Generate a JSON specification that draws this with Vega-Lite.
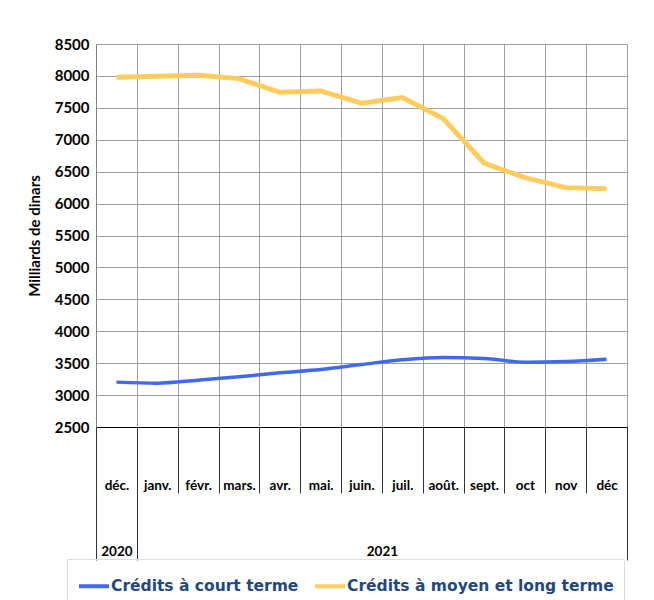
{
  "$schema": "https://vega.github.io/schema/vega-lite/v6.json",
  "width": 531,
  "height": 383,
  "autosize": {"type": "none"},
  "padding": {"left": 96, "top": 44, "right": 27, "bottom": 173},
  "background": "white",
  "config": {"view": {"stroke": null}, "font": "Lato"},
  "data": {
    "values": [
      {"mois": "déc.", "annee": "2020", "serie": "Crédits à court terme", "valeur": 3203},
      {"mois": "janv.", "annee": "2021", "serie": "Crédits à court terme", "valeur": 3187},
      {"mois": "févr.", "annee": "2021", "serie": "Crédits à court terme", "valeur": 3234},
      {"mois": "mars.", "annee": "2021", "serie": "Crédits à court terme", "valeur": 3286},
      {"mois": "avr.", "annee": "2021", "serie": "Crédits à court terme", "valeur": 3349},
      {"mois": "mai.", "annee": "2021", "serie": "Crédits à court terme", "valeur": 3401},
      {"mois": "juin.", "annee": "2021", "serie": "Crédits à court terme", "valeur": 3479},
      {"mois": "juil.", "annee": "2021", "serie": "Crédits à court terme", "valeur": 3552},
      {"mois": "août.", "annee": "2021", "serie": "Crédits à court terme", "valeur": 3589},
      {"mois": "sept.", "annee": "2021", "serie": "Crédits à court terme", "valeur": 3573},
      {"mois": "oct", "annee": "2021", "serie": "Crédits à court terme", "valeur": 3516},
      {"mois": "nov", "annee": "2021", "serie": "Crédits à court terme", "valeur": 3526},
      {"mois": "déc", "annee": "2021", "serie": "Crédits à court terme", "valeur": 3563},
      {"mois": "déc.", "annee": "2020", "serie": "Crédits à moyen et long terme", "valeur": 7979},
      {"mois": "janv.", "annee": "2021", "serie": "Crédits à moyen et long terme", "valeur": 7995},
      {"mois": "févr.", "annee": "2021", "serie": "Crédits à moyen et long terme", "valeur": 8010},
      {"mois": "mars.", "annee": "2021", "serie": "Crédits à moyen et long terme", "valeur": 7958},
      {"mois": "avr.", "annee": "2021", "serie": "Crédits à moyen et long terme", "valeur": 7744},
      {"mois": "mai.", "annee": "2021", "serie": "Crédits à moyen et long terme", "valeur": 7765},
      {"mois": "juin.", "annee": "2021", "serie": "Crédits à moyen et long terme", "valeur": 7572},
      {"mois": "juil.", "annee": "2021", "serie": "Crédits à moyen et long terme", "valeur": 7660},
      {"mois": "août.", "annee": "2021", "serie": "Crédits à moyen et long terme", "valeur": 7331},
      {"mois": "sept.", "annee": "2021", "serie": "Crédits à moyen et long terme", "valeur": 6636},
      {"mois": "oct", "annee": "2021", "serie": "Crédits à moyen et long terme", "valeur": 6406},
      {"mois": "nov", "annee": "2021", "serie": "Crédits à moyen et long terme", "valeur": 6250},
      {"mois": "déc", "annee": "2021", "serie": "Crédits à moyen et long terme", "valeur": 6234}
    ]
  },
  "encoding": {
    "y": {
      "field": "valeur",
      "type": "quantitative",
      "scale": {"domain": [2500, 8500], "nice": false, "zero": false},
      "axis": {
        "title": "Milliards de dinars",
        "format": "d",
        "values": [2500, 3000, 3500, 4000, 4500, 5000, 5500, 6000, 6500, 7000, 7500, 8000, 8500],
        "grid": true,
        "gridColor": "#9e9e9e",
        "domain": true,
        "domainColor": "#808080",
        "ticks": false,
        "labelPadding": 7,
        "labelFont": "Lato",
        "labelFontWeight": "bold",
        "labelFontSize": 15,
        "labelColor": "#000000",
        "titleFont": "Lato",
        "titleFontSize": 15,
        "titleFontWeight": "bold",
        "titleColor": "#000000",
        "titlePadding": 12
      }
    },
    "color": {
      "field": "serie",
      "type": "nominal",
      "scale": {
        "domain": ["Crédits à court terme", "Crédits à moyen et long terme"],
        "range": ["#4169EE", "#FFCD5F"]
      },
      "legend": {
        "title": null,
        "orient": "none",
        "direction": "horizontal",
        "legendX": -29,
        "legendY": 515,
        "symbolType": "stroke",
        "symbolStrokeWidth": 4,
        "symbolSize": 900,
        "labelFont": "DejaVu Sans",
        "labelFontWeight": "bold",
        "labelFontSize": 15.5,
        "labelColor": "#1F497D",
        "labelOffset": 0,
        "columnPadding": 8,
        "padding": 10,
        "strokeColor": "#dddddd",
        "labelLimit": 400
      }
    }
  },
  "layer": [
    {
      "transform": [{"filter": "datum.serie === 'Crédits à court terme'"}],
      "mark": {"type": "line", "strokeWidth": 3.5, "interpolate": "monotone"},
      "encoding": {
        "x": {
          "field": "mois",
          "type": "ordinal",
          "scale": {
            "type": "band",
            "paddingInner": 0,
            "paddingOuter": 0,
            "domain": ["déc.", "janv.", "févr.", "mars.", "avr.", "mai.", "juin.", "juil.", "août.", "sept.", "oct", "nov", "déc"]
          },
          "axis": {
            "title": null,
            "orient": "bottom",
            "tickBand": "extent",
            "grid": true,
            "gridColor": "#9e9e9e",
            "domainColor": "#000000",
            "ticks": true,
            "tickSize": 66,
            "tickColor": "#333333",
            "labelPadding": -15,
            "labelFont": "Lato",
            "labelFontWeight": "bold",
            "labelFontSize": 13.5,
            "labelColor": "#000000",
            "labelAngle": 0,
            "labelOverlap": false
          }
        }
      }
    },
    {
      "transform": [{"filter": "datum.serie === 'Crédits à moyen et long terme'"}],
      "mark": {"type": "line", "strokeWidth": 5},
      "encoding": {
        "x": {
          "field": "mois",
          "type": "ordinal",
          "scale": {
            "type": "band",
            "paddingInner": 0,
            "paddingOuter": 0,
            "domain": ["déc.", "janv.", "févr.", "mars.", "avr.", "mai.", "juin.", "juil.", "août.", "sept.", "oct", "nov", "déc"]
          },
          "axis": {
            "title": null,
            "orient": "bottom",
            "tickBand": "extent",
            "grid": false,
            "domain": false,
            "ticks": true,
            "tickSize": 133,
            "tickColor": "#333333",
            "tickOpacity": {"condition": {"test": "!datum.value || datum.value === 'déc.' || datum.value === 'déc'", "value": 1}, "value": 0},
            "labelExpr": "datum.value === 'déc.' ? '2020' : datum.value === 'juin.' ? '2021' : ''",
            "labelOffset": {"condition": {"test": "datum.value === 'juin.'", "value": 20.4}, "value": 0},
            "labelPadding": -16,
            "labelFont": "Lato",
            "labelFontWeight": "bold",
            "labelFontSize": 13.5,
            "labelColor": "#000000",
            "labelAngle": 0,
            "labelOverlap": false
          }
        }
      }
    }
  ],
  "resolve": {"scale": {"x": "independent"}, "axis": {"x": "independent"}}
}
